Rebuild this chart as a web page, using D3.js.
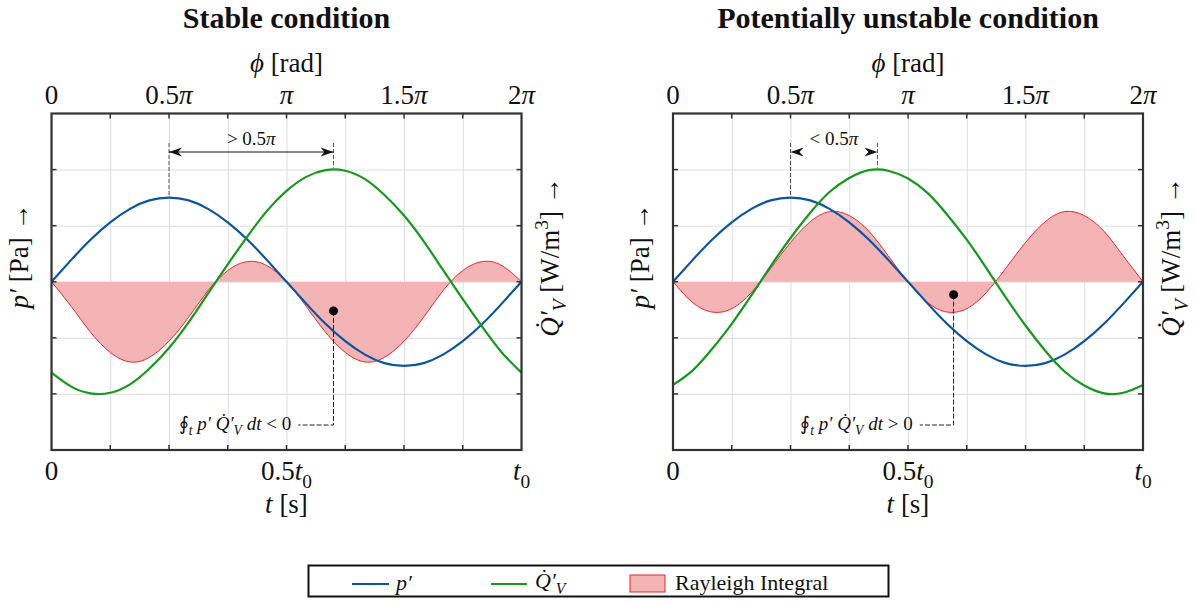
<!DOCTYPE html>
<html>
<head>
<meta charset="utf-8">
<script src="https://cdn.jsdelivr.net/npm/d3@7"></script>
<style>
  body { margin: 0; background: #fff; }
  text, tspan { font-family: "Liberation Serif", "DejaVu Serif", serif; fill: #111; }
</style>
</head>
<body>
<div id="chart"></div>
<script>
// sample points, as fraction of one period t0
const tFrac = [0, 0.042, 0.083, 0.125, 0.167, 0.208, 0.25, 0.292, 0.333, 0.375, 0.417, 0.458,
  0.5, 0.542, 0.583, 0.625, 0.667, 0.708, 0.75, 0.792, 0.833, 0.875, 0.917, 0.958, 1];

// p' (same in both panels)
const pressure = [0, 0.39, 0.75, 1.06, 1.30, 1.45, 1.5, 1.45, 1.30, 1.06, 0.75, 0.39,
  0, -0.39, -0.75, -1.06, -1.30, -1.45, -1.5, -1.45, -1.30, -1.06, -0.75, -0.39, 0];

// Q'_V
const heatStable = [-1.62, -1.87, -1.99, -1.98, -1.83, -1.55, -1.18, -0.72, -0.21, 0.31, 0.81, 1.26,
  1.62, 1.87, 1.99, 1.98, 1.83, 1.55, 1.18, 0.72, 0.21, -0.31, -0.81, -1.26, -1.62];
const heatUnstable = [-1.84, -1.58, -1.20, -0.75, -0.24, 0.28, 0.78, 1.23, 1.60, 1.85, 1.99, 1.98,
  1.84, 1.58, 1.20, 0.75, 0.24, -0.28, -0.78, -1.23, -1.60, -1.85, -1.99, -1.98, -1.84];

// Rayleigh integrand
const rayleighStable = [0, -0.44, -0.90, -1.26, -1.43, -1.35, -1.06, -0.63, -0.16, 0.20, 0.36, 0.29,
  0, -0.44, -0.90, -1.26, -1.43, -1.35, -1.06, -0.63, -0.16, 0.20, 0.36, 0.29, 0];
const rayleighUnstable = [0, -0.37, -0.54, -0.48, -0.19, 0.24, 0.70, 1.07, 1.25, 1.18, 0.90, 0.46,
  0, -0.37, -0.54, -0.48, -0.19, 0.24, 0.70, 1.07, 1.25, 1.18, 0.90, 0.46, 0];

const titles = ['Stable condition', 'Potentially unstable condition'];
const phiTicks = [0, 0.25, 0.5, 0.75, 1];
const phiLabels = [[['0']], [['0.5'], ['π', 'i']], [['π', 'i']], [['1.5'], ['π', 'i']], [['2'], ['π', 'i']]];
const timeTicks = [0, 0.5, 1];
const timeLabels = [[['0']], [['0.5'], ['t', 'i'], ['0', 'sub']], [['t', 'i'], ['0', 'sub']]];
const minorTicks = [0, 0.125, 0.25, 0.375, 0.5, 0.625, 0.75, 0.875, 1];
const yTicks = [-2, -1, 0, 1, 2];

// annotation anchors (t fraction, value)
const peaksStable = [0.25, 0.6];
const peaksUnstable = [0.25, 0.435];
const dotStable = [0.6, -0.52];
const dotUnstable = [0.597, -0.23];
const phaseText = ['> 0.5', '< 0.5'];
const integralSign = ['<', '>'];

const colors = { p: '#0a559f', q: '#14991a', ray: '#e8262c', rayFill: '#f4b3b4' };
const FONT = '"Liberation Serif", "DejaVu Serif", serif';

const W = 1195, H = 602;
const plotW = 470, yTop = 113.5, yBot = 450;
const panelX = [51.5, 673];

const svg = d3.select('#chart').append('svg')
  .attr('width', W).attr('height', H);

// write text made of pieces: [string, style]  style: 'i' italic, 'sub', 'isub', 'sup'
function rich(sel, parts, size) {
  sel.attr('font-family', FONT);
  let shift = 0;
  parts.forEach(([s, st]) => {
    const ts = sel.append('tspan').attr('font-family', FONT).text(s);
    let want = 0;
    if (st === 'i' || st === 'isub') ts.attr('font-style', 'italic');
    if (st === 'sub' || st === 'isub') { want = size * 0.28; ts.attr('font-size', size * 0.72); }
    if (st === 'sup') { want = -size * 0.4; ts.attr('font-size', size * 0.72); }
    if (want !== shift) ts.attr('dy', want - shift);
    shift = want;
  });
  return sel;
}

function arrowHead(g, tipX, y, dir) {
  const L = 13, w = 4.5, n = 4;
  g.append('path')
    .attr('d', `M${tipX},${y} L${tipX - dir * L},${y - w} L${tipX - dir * (L - n)},${y} L${tipX - dir * L},${y + w} Z`)
    .attr('fill', '#111');
}

const panels = [
  { heat: heatStable, ray: rayleighStable, peaks: peaksStable, dot: dotStable },
  { heat: heatUnstable, ray: rayleighUnstable, peaks: peaksUnstable, dot: dotUnstable }
];

panels.forEach((pn, i) => {
  const x0 = panelX[i];
  const x = d3.scaleLinear().domain([0, 1]).range([x0, x0 + plotW]);
  const y = d3.scaleLinear().domain([-3, 3]).range([yBot, yTop]);
  const g = svg.append('g');
  const cx = x0 + plotW / 2;

  // grid
  g.append('g').attr('transform', `translate(0,${yBot})`)
    .call(d3.axisBottom(x).tickValues(minorTicks).tickSize(-(yBot - yTop)).tickFormat(''))
    .call(a => a.select('.domain').remove())
    .call(a => a.selectAll('line').attr('stroke', '#dedede'));
  g.append('g').attr('transform', `translate(${x0},0)`)
    .call(d3.axisLeft(y).tickValues(yTicks).tickSize(-plotW).tickFormat(''))
    .call(a => a.select('.domain').remove())
    .call(a => a.selectAll('line').attr('stroke', '#dedede'));

  // Rayleigh area + line, then p' and Q'
  const data = tFrac.map((t, k) => ({ t, p: pressure[k], q: pn.heat[k], r: pn.ray[k] }));
  g.append('path').datum(data)
    .attr('d', d3.area().x(d => x(d.t)).y0(y(0)).y1(d => y(d.r)).curve(d3.curveNatural))
    .attr('fill', colors.rayFill);
  g.append('path').datum(data)
    .attr('d', d3.line().x(d => x(d.t)).y(d => y(d.r)).curve(d3.curveNatural))
    .attr('fill', 'none').attr('stroke', colors.ray).attr('stroke-width', 1);
  g.append('path').datum(data)
    .attr('d', d3.line().x(d => x(d.t)).y(d => y(d.p)).curve(d3.curveNatural))
    .attr('fill', 'none').attr('stroke', colors.p).attr('stroke-width', 2.2);
  g.append('path').datum(data)
    .attr('d', d3.line().x(d => x(d.t)).y(d => y(d.q)).curve(d3.curveNatural))
    .attr('fill', 'none').attr('stroke', colors.q).attr('stroke-width', 2.2);

  // ticks (inward) and frame
  const tk = 5;
  minorTicks.slice(1, -1).forEach(t => {
    g.append('line').attr('x1', x(t)).attr('x2', x(t)).attr('y1', yTop).attr('y2', yTop + tk)
      .attr('stroke', '#333').attr('stroke-width', 1.5);
    g.append('line').attr('x1', x(t)).attr('x2', x(t)).attr('y1', yBot).attr('y2', yBot - tk)
      .attr('stroke', '#333').attr('stroke-width', 1.5);
  });
  yTicks.forEach(v => {
    g.append('line').attr('x1', x0).attr('x2', x0 + tk).attr('y1', y(v)).attr('y2', y(v))
      .attr('stroke', '#333').attr('stroke-width', 1.5);
    g.append('line').attr('x1', x0 + plotW).attr('x2', x0 + plotW - tk).attr('y1', y(v)).attr('y2', y(v))
      .attr('stroke', '#333').attr('stroke-width', 1.5);
  });
  g.append('rect').attr('x', x0).attr('y', yTop).attr('width', plotW).attr('height', yBot - yTop)
    .attr('fill', 'none').attr('stroke', '#333').attr('stroke-width', 2.2);

  // tick labels
  const fs = 27;
  phiTicks.forEach((t, k) => {
    rich(g.append('text').attr('x', x(t)).attr('y', 104).attr('text-anchor', 'middle')
      .attr('font-size', fs), phiLabels[k], fs);
  });
  timeTicks.forEach((t, k) => {
    rich(g.append('text').attr('x', x(t)).attr('y', 480).attr('text-anchor', 'middle')
      .attr('font-size', fs), timeLabels[k], fs);
  });

  // axis titles
  rich(g.append('text').attr('x', cx).attr('y', 72).attr('text-anchor', 'middle').attr('font-size', fs),
    [['ϕ', 'i'], [' [rad]']], fs);
  rich(g.append('text').attr('x', cx).attr('y', 513).attr('text-anchor', 'middle').attr('font-size', fs),
    [['t', 'i'], [' [s]']], fs);
  rich(g.append('text').attr('transform', `translate(${x0 - 24},256) rotate(-90)`)
    .attr('text-anchor', 'middle').attr('font-size', fs),
    [['p′', 'i'], [' [Pa]  \u2192']], fs);
  rich(g.append('text').attr('transform', `translate(${x0 + plotW + 37},257) rotate(-90)`)
    .attr('text-anchor', 'middle').attr('font-size', fs),
    [['Q\u0307′', 'i'], ['V', 'isub'], [' [W/m'], ['3', 'sup'], [']  \u2192']], fs);

  g.append('text').attr('x', cx).attr('y', 28).attr('text-anchor', 'middle')
    .attr('font-family', FONT).attr('font-size', 30).attr('font-weight', 'bold').text(titles[i]);

  // phase annotation
  const [ta, tb] = pn.peaks;
  const ay = 152;
  [[ta, 1.5], [tb, 2]].forEach(([t, amp]) => {
    g.append('line').attr('x1', x(t)).attr('x2', x(t)).attr('y1', 143).attr('y2', y(amp) - 2)
      .attr('stroke', '#555').attr('stroke-width', 1).attr('stroke-dasharray', '4,2');
  });
  if (i === 0) {
    g.append('line').attr('x1', x(ta)).attr('x2', x(tb)).attr('y1', ay).attr('y2', ay)
      .attr('stroke', '#111').attr('stroke-width', 1);
  }
  arrowHead(g, x(ta), ay, -1);
  arrowHead(g, x(tb), ay, 1);
  rich(g.append('text').attr('x', (x(ta) + x(tb)) / 2).attr('y', 145).attr('text-anchor', 'middle')
    .attr('font-size', 19), [[phaseText[i]], ['π', 'i']], 19);

  // Rayleigh integral marker
  const [dt, dv] = pn.dot;
  const ly = 425;
  g.append('path')
    .attr('d', `M${x(dt)},${y(dv)} V${ly} H${x(0.525)}`)
    .attr('fill', 'none').attr('stroke', '#222').attr('stroke-width', 1).attr('stroke-dasharray', '5,2');
  g.append('circle').attr('cx', x(dt)).attr('cy', y(dv)).attr('r', 4.5).attr('fill', '#000');
  rich(g.append('text').attr('x', x(0.51)).attr('y', 430).attr('text-anchor', 'end').attr('font-size', 19),
    [['∮'], ['t', 'isub'], [' p′ Q\u0307′', 'i'], ['V', 'isub'], [' dt', 'i'], [' ' + integralSign[i] + ' 0']], 19);
});

// legend
const lg = svg.append('g');
lg.append('rect').attr('x', 308.5).attr('y', 565.5).attr('width', 580).attr('height', 31)
  .attr('fill', '#fff').attr('stroke', '#111').attr('stroke-width', 2);
lg.append('line').attr('x1', 352).attr('x2', 389).attr('y1', 584).attr('y2', 584)
  .attr('stroke', colors.p).attr('stroke-width', 2.2);
rich(lg.append('text').attr('x', 396).attr('y', 590).attr('font-size', 22), [['p′', 'i']], 22);
lg.append('line').attr('x1', 491).attr('x2', 527).attr('y1', 584).attr('y2', 584)
  .attr('stroke', colors.q).attr('stroke-width', 2.2);
rich(lg.append('text').attr('x', 535).attr('y', 588).attr('font-size', 22), [['Q\u0307′', 'i'], ['V', 'isub']], 22);
lg.append('rect').attr('x', 630).attr('y', 575).attr('width', 35).attr('height', 17)
  .attr('fill', colors.rayFill).attr('stroke', colors.ray).attr('stroke-width', 1);
lg.append('text').attr('x', 675).attr('y', 590).attr('font-family', FONT).attr('font-size', 22).text('Rayleigh Integral');
</script>
</body>
</html>
